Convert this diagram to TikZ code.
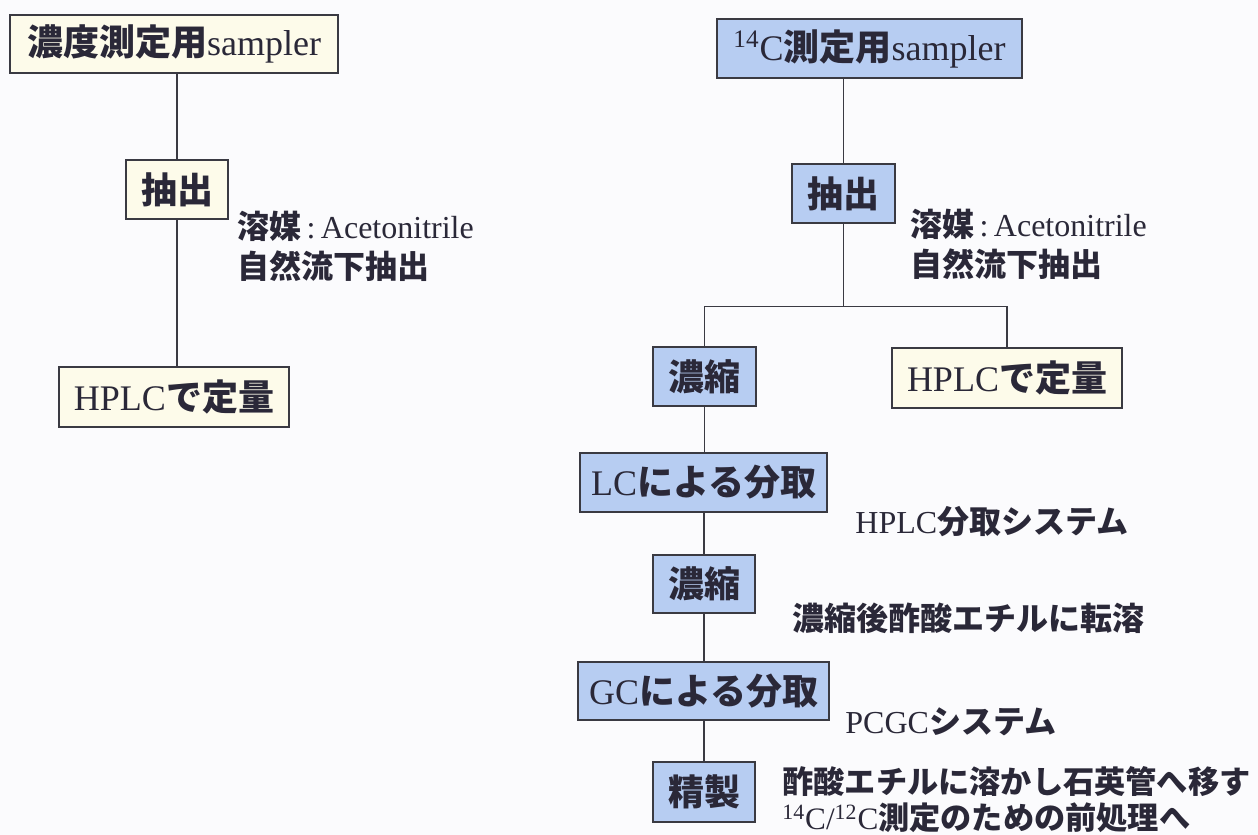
\documentclass[tikz,border=0pt]{standalone}
\usepackage{fontspec}
\setmainfont{Liberation Serif}
\newfontfamily\jpfont{Noto Sans CJK JP}
\newcommand{\J}{\jpfont\bfseries}
\definecolor{bg}{HTML}{FBFBFD}
\definecolor{edge}{HTML}{3A3A42}
\definecolor{ink}{HTML}{2A2838}
\definecolor{boxblue}{HTML}{B7CDF2}
\definecolor{boxcream}{HTML}{FDFBEA}
\tikzset{
  box/.style={draw=edge, line width=0.9pt, inner sep=0pt, text=ink,
    font=\fontsize{18}{20}\selectfont},
  bluebox/.style={box, fill=boxblue},
  creambox/.style={box, fill=boxcream},
  note/.style={anchor=west, inner sep=0pt, align=left, text=ink,
    font=\fontsize{16}{20}\selectfont},
  link/.style={draw=edge, line width=0.9pt}
}
\begin{document}
\begin{tikzpicture}[x=0.5pt, y=-0.5pt]
\fill[bg] (0,0) rectangle (1258,835);
\useasboundingbox (0,0) rectangle (1258,835);

% left column
\node[creambox, minimum width=164pt, minimum height=29pt] (L1) at (174,44) {{\J 濃度測定用}sampler};
\node[creambox, minimum width=51pt, minimum height=29.5pt] (L2) at (177,189.5) {{\J 抽出}};
\node[creambox, minimum width=115pt, minimum height=30pt] (L3) at (174,397) {HPLC{\J で定量}};
\node[note] (n1) at (237,246) {{\J 溶媒}\,:\,Acetonitrile\\{\J 自然流下抽出}};

\draw[link] (L2.north) -- (L2.north |- L1.south);
\draw[link] (L2.south) -- (L2.south |- L3.north);

% right column
\node[bluebox, minimum width=152.5pt, minimum height=29.5pt] (R1) at (869.5,48.5) {\textsuperscript{14}C{\J 測定用}sampler};
\node[bluebox, minimum width=51.5pt, minimum height=29.5pt] (R2) at (843.5,193.5) {{\J 抽出}};
\node[bluebox, minimum width=51.5pt, minimum height=29.5pt] (R3) at (704.5,376.5) {{\J 濃縮}};
\node[creambox, minimum width=115pt, minimum height=30pt] (R4) at (1007,378) {HPLC{\J で定量}};
\node[bluebox, minimum width=123.5pt, minimum height=29.5pt] (R5) at (703.5,482.5) {LC{\J による分取}};
\node[bluebox, minimum width=51pt, minimum height=29pt] (R6) at (704,584) {{\J 濃縮}};
\node[bluebox, minimum width=125.5pt, minimum height=29pt] (R7) at (703.5,691) {GC{\J による分取}};
\node[bluebox, minimum width=51pt, minimum height=30pt] (R8) at (704,792) {{\J 精製}};

\coordinate (J) at (842,306.5);

\node[note] (n2) at (910,244) {{\J 溶媒}\,:\,Acetonitrile\\{\J 自然流下抽出}};
\node[note] (n3) at (855,522) {HPLC{\J 分取システム}};
\node[note] (n4) at (792,618) {{\J 濃縮後酢酸エチルに転溶}};
\node[note] (n5) at (845,722) {PCGC{\J システム}};
\node[note, font=\fontsize{15.6}{18}\selectfont] (n6) at (782,800) {{\J 酢酸エチルに溶かし石英管へ移す}\\\textsuperscript{14}C/\textsuperscript{12}C{\J 測定のための前処理へ}};

\draw[link] (R2.north) -- (R2.north |- R1.south);
\draw[link] (R2.south) -- (R2.south |- J);
\draw[link] (R3.north) -- (R3.north |- J) -- (R4.north |- J) -- (R4.north);
\draw[link] (R3.south) -- (R3.south |- R5.north);
\draw[link] (R5.south) -- (R5.south -| R6.north) -- (R6.north);
\draw[link] (R6.south) -- (R6.south |- R7.north);
\draw[link] (R7.south) -- (R7.south -| R8.north) -- (R8.north);
\end{tikzpicture}
\end{document}
